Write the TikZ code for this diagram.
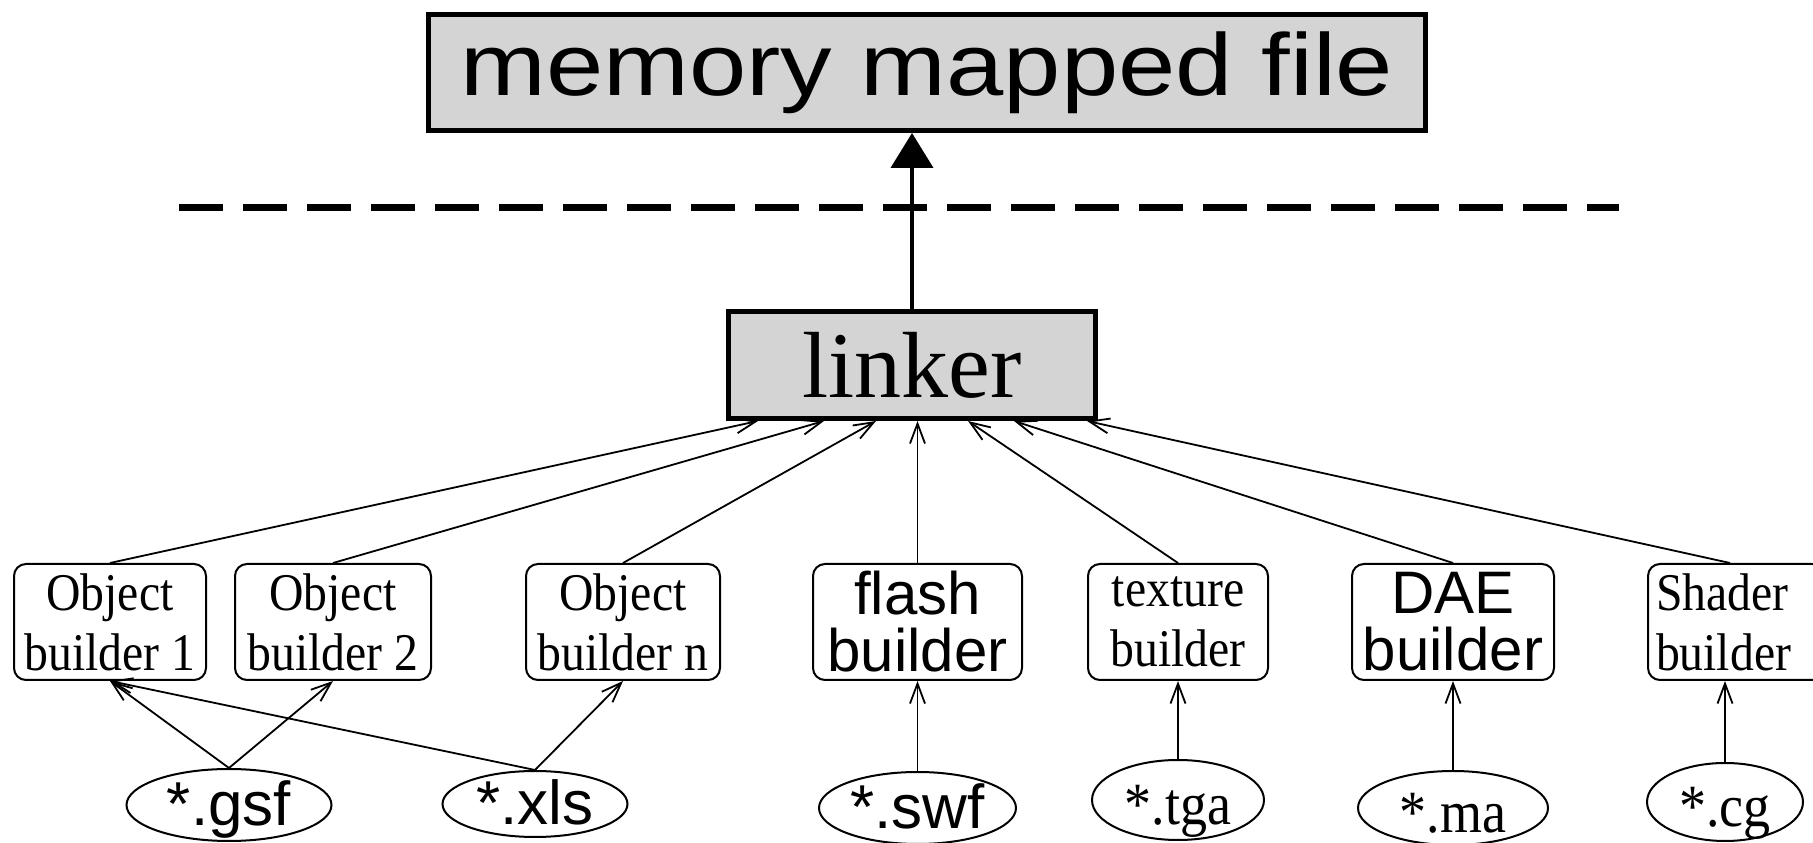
\documentclass[tikz,border=0pt]{standalone}
\usepackage{fontspec}
\setmainfont{Liberation Serif}
\setsansfont{Liberation Sans}
\newfontfamily\tallserif[FakeStretch=0.9]{Liberation Serif}
\newfontfamily\widesans[FakeStretch=1.17]{Liberation Sans}
\usetikzlibrary{positioning, shapes.geometric, arrows.meta}
\definecolor{boxgray}{RGB}{212,212,212}

\begin{document}
\begin{tikzpicture}[x=1pt, y=1pt,
    bigbox/.style={draw, fill=boxgray, line width=5pt, inner sep=0pt},
    builder/.style={draw, rounded corners=12pt, line width=2pt, inner sep=2pt, align=center, minimum height=116pt},
    serifb/.style={builder, font=\tallserif\fontsize{53}{60}\selectfont},
    sansb/.style={builder, font=\sffamily\fontsize{60}{57}\selectfont},
    srcfile/.style={draw, ellipse, line width=2pt, inner sep=0pt, text depth=0pt},
    sansfile/.style={srcfile, text height=42pt, font=\sffamily\fontsize{62}{62}\selectfont},
    seriffile/.style={srcfile, text height=50pt, font=\tallserif\fontsize{60}{60}\selectfont},
    feed/.style={line width=1.8pt, -{Straight Barb[length=20pt, width=15pt]}}]
  \useasboundingbox (0,0) rectangle (1813,843);

  \node[bigbox, minimum width=367pt, minimum height=107pt, font=\fontsize{94}{100}\selectfont] (linker) at (912,478) {linker};
  \node[bigbox, minimum width=997pt, minimum height=116pt, font=\widesans\fontsize{88}{90}\selectfont, above=176pt of linker, xshift=15pt] (mmf) {memory mapped file};
  \coordinate (dashl) at (179,635);
  \coordinate (dashr) at (1619,635);

  % builders
  \node[serifb, minimum width=192pt] (ob1) at (110,221) {Object\\builder 1};
  \node[serifb, minimum width=196pt, right=27pt of ob1] (ob2) {Object\\builder 2};
  \node[serifb, minimum width=194pt, right=93pt of ob2] (obn) {Object\\builder n};
  \node[sansb, minimum width=209pt, right=91pt of obn] (flash) {flash\\builder};
  \node[serifb, minimum width=180pt, right=64pt of flash] (texture) {texture\\builder};
  \node[sansb, minimum width=202pt, right=82pt of texture] (dae) {DAE\\builder};
  \node[serifb, minimum width=176pt, text width=160pt, align=left, right=92pt of dae] (shader) {Shader\\builder};

  % source files
  \node[sansfile, minimum width=205pt, minimum height=72pt] (gsf) at (229,38) {*.gsf};
  \node[sansfile, minimum width=185pt, minimum height=66pt] (xls) at (535,39) {*.xls};
  \node[sansfile, minimum width=197pt, minimum height=72pt, below=90pt of flash] (swf) {*.swf};
  \node[seriffile, minimum width=172pt, minimum height=80pt, below=78pt of texture] (tga) {*.tga};
  \node[seriffile, minimum width=190pt, minimum height=74pt, below=89pt of dae] (ma) {*.ma};
  \node[seriffile, minimum width=156pt, minimum height=78pt, below=81pt of shader, xshift=-11pt] (cg) {*.cg};

  \draw[line width=7pt, dash pattern=on 44pt off 20pt] (dashl) -- (dashr);
  \draw[line width=4pt, -{Triangle[length=35pt, width=42pt]}] (linker.north) -- (linker.north |- mmf.south);

  \draw[feed] (ob1.north) -- ([xshift=-154pt]linker.south);
  \draw[feed] (ob2.north) -- ([xshift=-88pt]linker.south);
  \draw[feed] (obn.north) -- ([xshift=-36pt]linker.south);
  \draw[feed] (flash.north) -- (flash.north |- linker.south);
  \draw[feed] (texture.north) -- ([xshift=56pt]linker.south);
  \draw[feed] (dae.north) -- ([xshift=102pt]linker.south);
  \draw[feed] ([xshift=-6pt]shader.north) -- ([xshift=175pt]linker.south);

  \draw[feed] (gsf.north) -- (ob1.south);
  \draw[feed] (gsf.north) -- (ob2.south);
  \draw[feed] (xls.north) -- (ob1.south);
  \draw[feed] (xls.north) -- (obn.south);
  \draw[feed] (swf.north) -- (flash.south);
  \draw[feed] (tga.north) -- (texture.south);
  \draw[feed] (ma.north) -- (dae.south);
  \draw[feed] (cg.north) -- (cg.north |- shader.south);
\end{tikzpicture}
\end{document}
